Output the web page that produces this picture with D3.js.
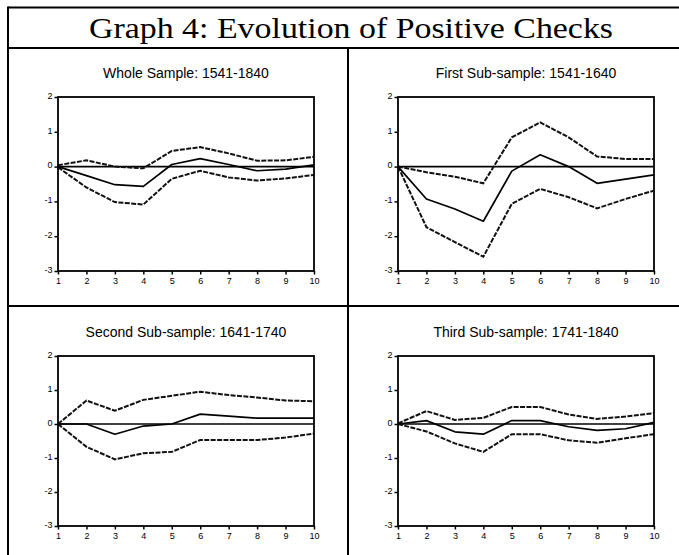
<!DOCTYPE html>
<html>
<head>
<meta charset="utf-8">
<style>
  body { margin: 0; background: #fff; }
  .tick text { font-family: "Liberation Sans", Arial, sans-serif; font-size: 9px; fill: #000; }
  .tick line { stroke: #000; stroke-width: 1.5; }
</style>
</head>
<body>
<div id="container"></div>
<script src="https://cdn.jsdelivr.net/npm/d3@7"></script>
<script>

  /*
   * The Data (impulse responses)
   */
  var periods = [1, 2, 3, 4, 5, 6, 7, 8, 9, 10];
  var yTicks = [2, 1, 0, -1, -2, -3];
  var mainTitle = "Graph 4: Evolution of Positive Checks";
  var panelTitles = [
    "Whole Sample: 1541-1840",
    "First Sub-sample: 1541-1640",
    "Second Sub-sample: 1641-1740",
    "Third Sub-sample: 1741-1840"
  ];

  var wholeMid   = [0, -0.26, -0.52, -0.57, 0.06, 0.23, 0.06, -0.12, -0.07, 0.05];
  var wholeUpper = [0.04, 0.18, 0.0, -0.05, 0.45, 0.56, 0.38, 0.17, 0.18, 0.28];
  var wholeLower = [-0.02, -0.6, -1.02, -1.09, -0.35, -0.12, -0.31, -0.4, -0.34, -0.24];

  var firstMid   = [0, -0.93, -1.22, -1.57, -0.13, 0.34, 0.0, -0.48, -0.36, -0.24];
  var firstUpper = [0, -0.16, -0.29, -0.48, 0.84, 1.27, 0.84, 0.29, 0.22, 0.22];
  var firstLower = [0, -1.74, -2.17, -2.59, -1.07, -0.64, -0.88, -1.2, -0.93, -0.69];

  var secondMid   = [0, 0, -0.3, -0.06, 0, 0.29, 0.23, 0.17, 0.17, 0.17];
  var secondUpper = [0, 0.69, 0.39, 0.71, 0.83, 0.95, 0.85, 0.78, 0.69, 0.67];
  var secondLower = [0, -0.67, -1.04, -0.86, -0.82, -0.47, -0.47, -0.47, -0.4, -0.28];

  var thirdMid   = [0, 0.1, -0.23, -0.3, 0.1, 0.1, -0.08, -0.19, -0.14, 0.05];
  var thirdUpper = [0.02, 0.38, 0.12, 0.18, 0.5, 0.5, 0.28, 0.15, 0.22, 0.32];
  var thirdLower = [0, -0.22, -0.57, -0.82, -0.3, -0.3, -0.48, -0.55, -0.42, -0.3];

  var panels = [
    { title: panelTitles[0], mid: wholeMid,  upper: wholeUpper,  lower: wholeLower,  col: 0, row: 0 },
    { title: panelTitles[1], mid: firstMid,  upper: firstUpper,  lower: firstLower,  col: 1, row: 0 },
    { title: panelTitles[2], mid: secondMid, upper: secondUpper, lower: secondLower, col: 0, row: 1 },
    { title: panelTitles[3], mid: thirdMid,  upper: thirdUpper,  lower: thirdLower,  col: 1, row: 1 }
  ];

  /*
   * The Setup
   */
  var w = 679, h = 555;
  var svg = d3.select("#container")
    .append("svg")
    .attr("width", w)
    .attr("height", h)
    .style("display", "block");

  // the table frame round the four graphs
  var frame = svg.append("g")
    .attr("stroke", "#000")
    .attr("stroke-width", 2);
  frame.append("line").attr("x1", 8).attr("x2", w).attr("y1", 7.5).attr("y2", 7.5);
  frame.append("line").attr("x1", 8).attr("x2", 8).attr("y1", 6.5).attr("y2", h);
  frame.append("line").attr("x1", 8).attr("x2", w).attr("y1", 48).attr("y2", 48);
  frame.append("line").attr("x1", 8).attr("x2", w).attr("y1", 306).attr("y2", 306);
  frame.append("line").attr("x1", 348).attr("x2", 348).attr("y1", 48).attr("y2", h);

  svg.append("text")
    .attr("x", 351)
    .attr("y", 38)
    .attr("text-anchor", "middle")
    .attr("textLength", 524)
    .attr("lengthAdjust", "spacingAndGlyphs")
    .style("font-family", "'Liberation Serif', 'Times New Roman', serif")
    .style("font-size", "30px")
    .text(mainTitle);

  // plot box positions per column / row
  var colLeft = [58, 398];
  var plotWidth = 256;
  var rowTop = [97, 356];
  var rowBottom = [271, 526];

  /*
   * The Plot Drawing Elements
   */
  panels.forEach(function(p) {
    var x0 = colLeft[p.col], x1 = x0 + plotWidth;
    var y0 = rowTop[p.row], y1 = rowBottom[p.row];

    var xScale = d3.scaleLinear().domain([1, 10]).range([x0, x1]);
    var yScale = d3.scaleLinear().domain([2, -3]).range([y0, y1]);

    var g = svg.append("g");

    g.append("text")
      .attr("x", (x0 + x1) / 2)
      .attr("y", y0 - 19)
      .attr("text-anchor", "middle")
      .style("font-family", "'Liberation Sans', Arial, sans-serif")
      .style("font-size", "14px")
      .text(p.title);

    // axes, ticks pointing out
    var xAxis = d3.axisBottom(xScale).tickValues(periods)
      .tickSize(3.5).tickPadding(3.5).tickFormat(function(d) { return String(d); });
    var yAxis = d3.axisLeft(yScale).tickValues(yTicks)
      .tickSize(3.5).tickPadding(2).tickFormat(function(d) { return String(d); });

    g.append("g")
      .attr("transform", "translate(0," + y1 + ")")
      .call(xAxis)
      .call(function(a) { a.select(".domain").remove(); });

    g.append("g")
      .attr("transform", "translate(" + x0 + ",0)")
      .call(yAxis)
      .call(function(a) { a.select(".domain").remove(); })
      .selectAll("text").attr("dy", "0.15em");

    // zero line
    g.append("line")
      .attr("x1", xScale(1)).attr("x2", xScale(10))
      .attr("y1", yScale(0)).attr("y2", yScale(0))
      .attr("stroke", "#000")
      .attr("stroke-width", 1.6);

    var line = d3.line()
      .x(function(d, i) { return xScale(periods[i]); })
      .y(function(d) { return yScale(d); });

    [p.upper, p.lower].forEach(function(band) {
      g.append("path")
        .datum(band)
        .attr("fill", "none")
        .attr("stroke", "#111")
        .attr("stroke-width", 2)
        .attr("stroke-dasharray", "5,1.4")
        .attr("d", line);
    });

    g.append("path")
      .datum(p.mid)
      .attr("fill", "none")
      .attr("stroke", "#000")
      .attr("stroke-width", 1.7)
      .attr("stroke-linejoin", "round")
      .attr("d", line);

    // plot box on top
    g.append("rect")
      .attr("x", x0).attr("y", y0)
      .attr("width", x1 - x0).attr("height", y1 - y0)
      .attr("fill", "none")
      .attr("stroke", "#000")
      .attr("stroke-width", 1.8);
  });
</script>
</body>
</html>
